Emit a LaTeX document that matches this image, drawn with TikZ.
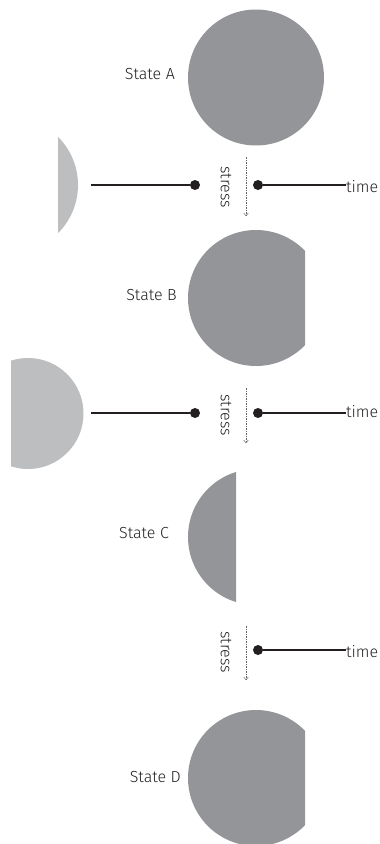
\documentclass[tikz,border=0pt]{standalone}
\usepackage{fontspec}
\setmainfont{Fira Sans}[UprightFont={* Light}]
\usetikzlibrary{arrows.meta}
\definecolor{darkg}{HTML}{939598}
\definecolor{lightg}{HTML}{BCBEC0}
\definecolor{ink}{HTML}{231F20}
\tikzset{
  lbl/.style={font=\fontsize{16}{19}\selectfont, text=ink, inner sep=0pt},
  dotnode/.style={circle, fill=ink, inner sep=0pt, minimum size=10pt},
  tline/.style={draw=ink, line width=1.6pt},
  stressarrow/.style={draw=ink!70, line width=0.5pt, dash pattern=on 1.5pt off 1pt, -{To[length=3pt,width=5pt]}},
}
\begin{document}
\begin{tikzpicture}[x=1pt,y=-1pt]
\useasboundingbox (0,0) rectangle (380,844);
% State A
\fill[darkg] (256,77.5) circle (68);
\node[lbl, anchor=east] (sa) at (175,74) {State A};
% left partial 1
\begin{scope}
\clip (58,0) rectangle (380,844);
\fill[lightg] (10,185) circle (68);
\end{scope}
% row 1
\coordinate (l1) at (91,185);
\node[dotnode] (d1a) at (195,185) {};
\node[dotnode] (d1b) at (258,185) {};
\node[lbl, anchor=west] (t1) at (346,186.5) {time};
\draw[tline] (l1) -- (d1a);
\draw[tline] (d1b) -- (d1b -| t1.west);
\coordinate (s1a) at (246,157);
\coordinate (s1b) at (246,216);
\draw[stressarrow] (s1a) -- (s1b);
\node[lbl, rotate=-90] (st1) at (226,187) {stress};
% State B
\begin{scope}
\clip (0,0) rectangle (305,844);
\fill[darkg] (256,298) circle (68);
\end{scope}
\node[lbl, anchor=east] (sb) at (177,295) {State B};
% left partial 2
\begin{scope}
\clip (11,0) rectangle (380,844);
\fill[lightg] (28,413.5) circle (55.5);
\end{scope}
% row 2
\coordinate (l2) at (91,413);
\node[dotnode] (d2a) at (195,413) {};
\node[dotnode] (d2b) at (258,413) {};
\node[lbl, anchor=west] (t2) at (346,411.5) {time};
\draw[tline] (l2) -- (d2a);
\draw[tline] (d2b) -- (d2b -| t2.west);
\coordinate (s2a) at (246,388);
\coordinate (s2b) at (246,443);
\draw[stressarrow] (s2a) -- (s2b);
\node[lbl, rotate=-90] (st2) at (226,415) {stress};
% State C
\begin{scope}
\clip (0,0) rectangle (236,844);
\fill[darkg] (256,537) circle (68);
\end{scope}
\node[lbl, anchor=east] (sc) at (169,533) {State C};
% row 3
\node[dotnode] (d3b) at (258,650) {};
\node[lbl, anchor=west] (t3) at (346,651.5) {time};
\draw[tline] (d3b) -- (d3b -| t3.west);
\coordinate (s3a) at (246,626);
\coordinate (s3b) at (246,680);
\draw[stressarrow] (s3a) -- (s3b);
\node[lbl, rotate=-90] (st3) at (226,652) {stress};
% State D
\begin{scope}
\clip (0,0) rectangle (305,844);
\fill[darkg] (256,778) circle (68);
\end{scope}
\node[lbl, anchor=east] (sd) at (181,777) {State D};
\end{tikzpicture}
\end{document}
